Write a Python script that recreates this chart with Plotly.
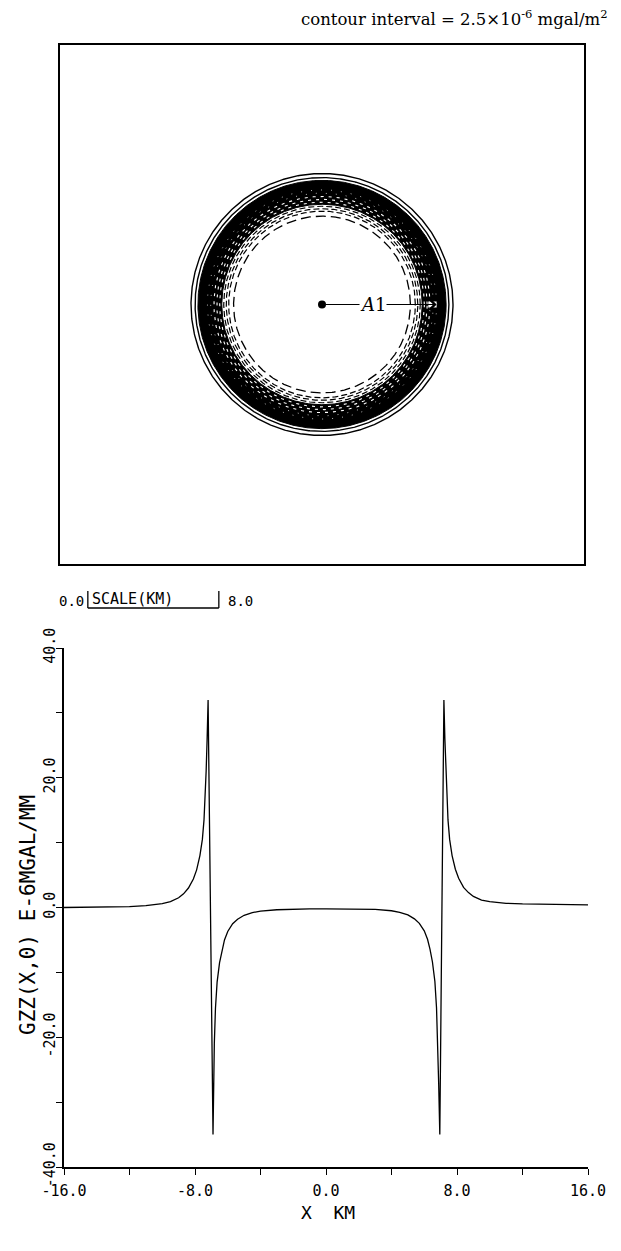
import numpy as np
import plotly.graph_objects as go

W, H = 621, 1251

# ---------------- data ----------------
# profile GZZ(x,0) along the x axis (km, E-6 mgal/m)
profile_x = [-16, -14, -12, -11, -10, -9.5, -9, -8.7, -8.4, -8.1, -7.9, -7.7, -7.55, -7.45,
             -7.38, -7.32, -7.26, -7.2,
             -6.9, -6.86, -6.82, -6.75, -6.65, -6.5, -6.35, -6.2, -6.0, -5.7, -5.4, -5.0,
             -4.5, -4.0, -3.0, -2.0, -1.0, 0.0, 1.0, 2.0, 3.0, 4.0, 4.5, 5.0, 5.4, 5.7,
             6.0, 6.2, 6.35, 6.5, 6.65, 6.75, 6.82, 6.88, 6.95,
             7.2, 7.26, 7.32, 7.38, 7.45, 7.55, 7.7, 7.9, 8.1, 8.4, 8.7, 9.0, 9.5, 10, 11, 12, 14, 16]
profile_y = [0.0, 0.05, 0.15, 0.3, 0.6, 0.9, 1.5, 2.1, 3.0, 4.4, 5.8, 8.0, 10.5, 13.5,
             17.0, 21.0, 26.0, 32.0,
             -35.0, -27.0, -21.0, -15.5, -11.5, -8.5, -6.5, -5.0, -3.7, -2.5, -1.8, -1.2,
             -0.8, -0.55, -0.35, -0.25, -0.2, -0.2, -0.2, -0.22, -0.3, -0.5, -0.75, -1.15, -1.75, -2.45,
             -3.6, -4.9, -6.4, -8.4, -11.4, -15.5, -21.0, -27.0, -35.0,
             32.0, 26.0, 21.0, 17.0, 13.5, 10.5, 8.0, 5.9, 4.5, 3.1, 2.3, 1.7, 1.15, 0.9, 0.65, 0.55, 0.45, 0.4]

x_tick_vals = [-16, -12, -8, -4, 0, 4, 8, 12, 16]
x_tick_text = ["-16.0", "", "-8.0", "", "0.0", "", "8.0", "", "16.0"]
y_tick_vals = [-40, -30, -20, -10, 0, 10, 20, 30, 40]
y_tick_text = ["-40.0", "", "-20.0", "", "0.0", "", "20.0", "", "40.0"]

# contour map (radii in km)
solid_radii = [8.0, 7.75]
band_inner, band_outer = 6.12, 7.58
white_dash_radii = [6.25, 6.42, 6.6]
white_fleck_radii = [6.8, 7.0]
dash_radii = [6.0, 5.85, 5.7]
wide_dash_radii = [5.4]
a1_radius = 7.0
a1_label_x = 3.1
scale_km = 8.0
scale_start_km = -14.3

# ---------------- layout geometry (px) ----------------
top_l, top_r, top_t, top_b = 60, 584, 45, 564
bot_l, bot_r, bot_t, bot_b = 64, 588, 648, 1167


def px_x(p):
    return p / W


def px_y(p):
    return 1 - p / H


top_xr = [-16, 16]
half_y = 16 * (top_b - top_t) / (top_r - top_l)
top_yr = [-half_y, half_y]

theta = np.linspace(0, 2 * np.pi, 721)

fig = go.Figure()


def ring(r, color, width, dash="solid"):
    fig.add_trace(go.Scatter(x=r * np.cos(theta), y=r * np.sin(theta), mode="lines",
                             line=dict(color=color, width=width, dash=dash),
                             xaxis="x2", yaxis="y2", hoverinfo="skip", showlegend=False))


# black band (annulus of densely packed contours)
xo = band_outer * np.cos(theta)
yo = band_outer * np.sin(theta)
xi = band_inner * np.cos(theta[::-1])
yi = band_inner * np.sin(theta[::-1])
fig.add_trace(go.Scatter(x=np.concatenate([xo, xi]), y=np.concatenate([yo, yi]),
                         mode="lines", fill="toself", fillcolor="black",
                         line=dict(color="black", width=1), xaxis="x2", yaxis="y2",
                         hoverinfo="skip", showlegend=False))

for r in solid_radii:
    ring(r, "black", 1.4)
for r in white_dash_radii:
    ring(r, "white", 1.1, "3px,5px")
for r in white_fleck_radii:
    ring(r, "white", 0.7, "1px,9px")
for r in dash_radii:
    ring(r, "black", 1.2, "6px,3px")
for r in wide_dash_radii:
    ring(r, "black", 1.3, "10px,5px")

# center dot
fig.add_trace(go.Scatter(x=[0], y=[0], mode="markers", marker=dict(color="black", size=8),
                         xaxis="x2", yaxis="y2", hoverinfo="skip", showlegend=False))

# profile curve
fig.add_trace(go.Scatter(x=profile_x, y=profile_y, mode="lines",
                         line=dict(color="black", width=1.3), xaxis="x", yaxis="y",
                         hoverinfo="skip", showlegend=False))

mono = "DejaVu Sans Mono"
tick_font = dict(family=mono, size=15, color="black")

fig.update_layout(
    width=W, height=H, margin=dict(l=0, r=0, t=0, b=0),
    paper_bgcolor="white", plot_bgcolor="white",
    font=dict(color="black"),
    xaxis=dict(domain=[px_x(bot_l), px_x(bot_r)], range=[-16, 16], automargin=False,
               tickmode="array", tickvals=x_tick_vals, ticktext=x_tick_text,
               ticks="outside", ticklen=6, tickwidth=1.2, tickcolor="black",
               ticklabelstandoff=3,
               showline=True, linecolor="black", linewidth=1.5,
               showgrid=False, zeroline=False, tickfont=tick_font),
    yaxis=dict(domain=[px_y(bot_b), px_y(bot_t)], range=[-40, 40], automargin=False,
               tickmode="array", tickvals=y_tick_vals, ticktext=y_tick_text,
               ticks="outside", ticklen=6, tickwidth=1.2, tickcolor="black", tickangle=-90,
               ticklabelstandoff=-5,
               showline=True, linecolor="black", linewidth=1.5,
               showgrid=False, zeroline=False, tickfont=tick_font),
    xaxis2=dict(domain=[px_x(top_l), px_x(top_r)], range=top_xr, anchor="y2", automargin=False,
                showticklabels=False, ticks="", showgrid=False, zeroline=False,
                showline=True, mirror=True, linecolor="black", linewidth=1.5),
    yaxis2=dict(domain=[px_y(top_b), px_y(top_t)], range=top_yr, anchor="x2", automargin=False,
                showticklabels=False, ticks="", showgrid=False, zeroline=False,
                showline=True, mirror=True, linecolor="black", linewidth=1.5),
)

annotations = [
    # white halo around arrow tip, then black arrow A1
    dict(x=a1_radius, y=0, ax=6.4, ay=0, xref="x2", yref="y2", axref="x2", ayref="y2",
         text="", showarrow=True, arrowhead=0, arrowwidth=6, arrowcolor="white"),
    dict(x=a1_radius, y=0, ax=0.15, ay=0, xref="x2", yref="y2", axref="x2", ayref="y2",
         text="", showarrow=True, arrowhead=4, arrowsize=1.8, arrowwidth=1.2, arrowcolor="black"),
    dict(x=a1_label_x, y=0, xref="x2", yref="y2", xanchor="center", yanchor="middle",
         text="<i>A</i>1", showarrow=False, bgcolor="white", borderpad=0,
         font=dict(family="DejaVu Serif", size=18, color="black")),
    # title
    dict(x=px_x(610), y=px_y(18), xref="paper", yref="paper", xanchor="right", yanchor="middle",
         text="contour interval = 2.5\u00d710<sup>-6</sup> mgal/m<sup>2</sup>", showarrow=False,
         font=dict(family="DejaVu Serif", size=16.5, color="black")),
    # scale bar labels
    dict(x=px_x(71), y=px_y(601), xref="paper", yref="paper", xanchor="center", yanchor="middle",
         text="0.0", showarrow=False, font=dict(family=mono, size=14, color="black")),
    dict(x=scale_start_km + 0.15, y=px_y(599), xref="x2", yref="paper", xanchor="left",
         yanchor="middle", text="SCALE(KM)", showarrow=False,
         font=dict(family=mono, size=15, color="black")),
    dict(x=scale_start_km + scale_km + 0.45, y=px_y(601), xref="x2", yref="paper", xanchor="left",
         yanchor="middle", text="8.0", showarrow=False,
         font=dict(family=mono, size=14, color="black")),
    # axis titles
    dict(x=px_x(28), y=px_y(915), xref="paper", yref="paper", xanchor="center", yanchor="middle",
         textangle=-90, text="GZZ(X,0) E-6MGAL/MM", showarrow=False,
         font=dict(family=mono, size=21, color="black")),
    dict(x=px_x(328), y=px_y(1212), xref="paper", yref="paper", xanchor="center", yanchor="middle",
         text="X\u00a0\u00a0KM", showarrow=False,
         font=dict(family=mono, size=18, color="black")),
]
fig.update_layout(annotations=annotations)

sb_x0 = scale_start_km
sb_x1 = sb_x0 + scale_km
shapes = [
    dict(type="line", xref="x2", yref="paper", x0=sb_x0, x1=sb_x0, y0=px_y(591), y1=px_y(608),
         line=dict(color="black", width=1.3)),
    dict(type="line", xref="x2", yref="paper", x0=sb_x1, x1=sb_x1, y0=px_y(591), y1=px_y(608),
         line=dict(color="black", width=1.3)),
    dict(type="line", xref="x2", yref="paper", x0=sb_x0, x1=sb_x1, y0=px_y(608), y1=px_y(608),
         line=dict(color="black", width=1.3)),
]
fig.update_layout(shapes=shapes)

fig.write_html("out.html")
